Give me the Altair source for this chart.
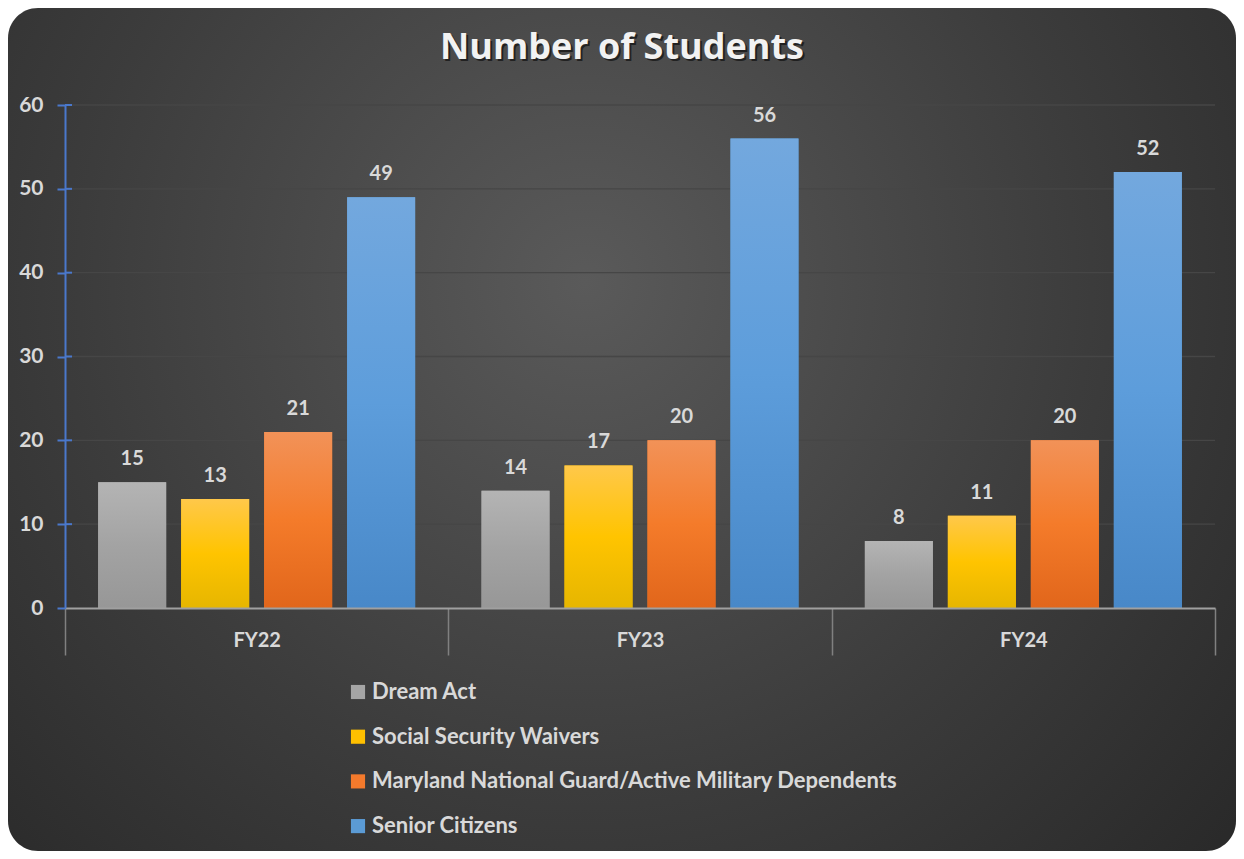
import altair as alt
import pandas as pd

title_text = "Number of Students"
years = ["FY22", "FY23", "FY24"]
series = [
    "Dream Act",
    "Social Security Waivers",
    "Maryland National Guard/Active Military Dependents",
    "Senior Citizens",
]
dream_act = [15, 14, 8]
ss_waivers = [13, 17, 11]
md_guard = [21, 20, 20]
seniors = [49, 56, 52]
y_ticks = [10, 20, 30, 40, 50, 60]

solid = ["#a5a5a5", "#ffc000", "#f47a2c", "#5b9bd5"]
grads = [
    [("#b4b4b4", 0), ("#a3a3a3", 0.5), ("#979797", 1)],
    [("#ffc84a", 0), ("#ffc400", 0.5), ("#e6b600", 1)],
    [("#f29258", 0), ("#f47b2a", 0.5), ("#e1661b", 1)],
    [("#73a8de", 0), ("#5d9ddb", 0.5), ("#4888c8", 1)],
]

rows = []
for s, vals in zip(series, [dream_act, ss_waivers, md_guard, seniors]):
    for fy, v in zip(years, vals):
        rows.append({"fy": fy, "series": s, "value": v})
df = pd.DataFrame(rows)

FONT = "Lato"
LBL = "#d9d9d9"
BLUE = "#4a78cc"
W, H = 1150, 503
PL, PT, PR, PB = 57, 97, 21, 243

def lin(stops):
    return {
        "gradient": "linear", "x1": 0, "y1": 0, "x2": 0, "y2": 1,
        "stops": [{"offset": o, "color": c} for c, o in stops],
    }

bg_grad = {
    "gradient": "radial",
    "x1": 0.47, "y1": 0.38, "r1": 0,
    "x2": 0.47, "y2": 0.38, "r2": 0.75,
    "stops": [
        {"offset": 0, "color": "#5a5a5a"},
        {"offset": 0.55, "color": "#3c3c3c"},
        {"offset": 1, "color": "#262626"},
    ],
}

y_axis = alt.Axis(
    values=[0] + y_ticks, labelFont=FONT, labelFontSize=21,
    labelFontWeight="bold", labelColor=LBL, tickSize=8,
    tickColor=BLUE, tickWidth=2, domainColor=BLUE,
    domainWidth=2, labelPadding=14, grid=False, zindex=1, title=None,
)
y_scale = alt.Scale(domain=[0, 60])

bg = alt.Chart(pd.DataFrame({"a": [0]})).mark_rect(
    fill=bg_grad, cornerRadius=30
).encode(
    x=alt.value(-PL), x2=alt.value(W + PR),
    y=alt.value(-PT), y2=alt.value(H + PB),
)

grid_df = pd.DataFrame({"v": y_ticks})
grid = alt.Chart(grid_df).mark_rule(color="#464646", strokeWidth=1.3).encode(
    y=alt.Y("v:Q", title=None, scale=y_scale, axis=y_axis),
    x=alt.value(0), x2=alt.value(W),
)
stubs = alt.Chart(grid_df).mark_rule(color=BLUE, strokeWidth=2).encode(
    y=alt.Y("v:Q", title=None, scale=y_scale, axis=y_axis),
    x=alt.value(0), x2=alt.value(7),
)

x_enc = alt.X(
    "fy:N",
    sort=years,
    title=None,
    scale=alt.Scale(paddingInner=0, paddingOuter=0),
    axis=alt.Axis(
        labelAngle=0, labelFont=FONT, labelFontSize=20, labelFontWeight="bold",
        labelColor=LBL, labelBaseline="middle", tickBand="extent",
        tickSize=47, tickColor="#808080", tickWidth=1.5,
        domainColor="#a0a0a0", domainWidth=2, labelPadding=-15, zindex=1,
        grid=False,
    ),
)
xo_enc = alt.XOffset(
    "series:N", sort=series,
    scale=alt.Scale(domain=series, paddingInner=0.181, paddingOuter=0.4),
)
y_enc = alt.Y("value:Q", title=None, scale=y_scale, axis=y_axis)

base = alt.Chart(df)
bars = base.mark_bar().encode(
    x=x_enc, xOffset=xo_enc, y=y_enc,
    color=alt.Color(
        "series:N",
        scale=alt.Scale(domain=series, range=solid),
        legend=alt.Legend(
            title=None, orient="none", legendX=282, legendY=576,
            direction="vertical", symbolType="square", symbolSize=200,
            symbolStrokeWidth=0, labelFont=FONT, labelFontSize=22,
            labelFontWeight="bold", labelColor=LBL, labelLimit=800,
            rowPadding=22.7, labelOffset=3,
        ),
    ),
)

overlays = []
for s, g in zip(series, grads):
    overlays.append(
        base.transform_filter(alt.datum.series == s)
        .mark_bar(fill=lin(g))
        .encode(x=x_enc, xOffset=xo_enc, y=y_enc)
    )

labels = base.mark_text(
    dy=-17, baseline="alphabetic", font=FONT, fontSize=20,
    fontWeight="bold", color=LBL,
).encode(x=x_enc, xOffset=xo_enc, y=y_enc, text="value:Q")

tdf = pd.DataFrame({"t": [title_text]})
TFONT = "Open Sans"
title_shadow = alt.Chart(tdf).mark_text(
    font=TFONT, fontSize=36, fontWeight="bold", color="#000000",
    opacity=0.55, baseline="middle", align="center",
).encode(text="t:N", x=alt.value(557 + 2), y=alt.value(-57 + 2))
title = alt.Chart(tdf).mark_text(
    font=TFONT, fontSize=36, fontWeight="bold", color="#f2f2f2",
    baseline="middle", align="center",
).encode(text="t:N", x=alt.value(557), y=alt.value(-57))

chart = alt.layer(
    bg, grid, stubs, bars, *overlays, labels, title_shadow, title
).properties(
    width=W, height=H,
    autosize=alt.AutoSizeParams(type="none"),
    padding={"left": PL, "top": PT, "right": PR, "bottom": PB},
    background="white",
).configure_view(stroke=None)

chart.save("out.html", embed_options={"renderer": "svg", "actions": False})
